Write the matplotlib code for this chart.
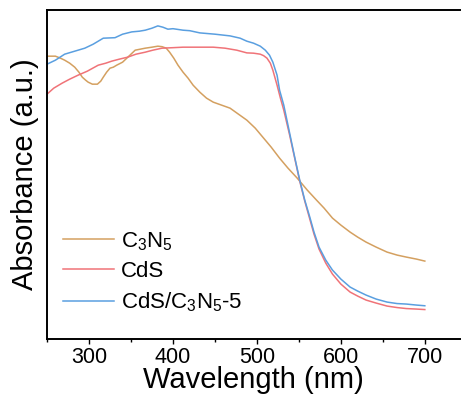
import matplotlib
matplotlib.use('Agg')
import matplotlib.pyplot as plt

#-----------------Data-------------

wl_c3n5 = [250, 260, 266, 271, 277, 283, 288, 292, 296, 299, 304, 310, 314, 317, 321, 325,
           329, 333, 340, 345, 350, 355, 361, 367, 375, 382, 387, 392, 396, 401, 406, 412,
           418, 424, 432, 440, 448, 458, 468, 478, 488, 498, 507, 517, 527, 537, 548, 560,
           571, 580, 590, 600, 611, 620, 630, 642, 655, 667, 678, 690, 700]
abs_c3n5 = [2.83, 2.83, 2.81, 2.79, 2.76, 2.72, 2.67, 2.62, 2.59, 2.57, 2.55, 2.55, 2.58, 2.62,
            2.67, 2.71, 2.72, 2.74, 2.77, 2.81, 2.85, 2.89, 2.90, 2.91, 2.92, 2.93, 2.925, 2.91,
            2.87, 2.81, 2.74, 2.67, 2.61, 2.54, 2.47, 2.41, 2.37, 2.34, 2.31, 2.25, 2.19, 2.11,
            2.02, 1.92, 1.81, 1.71, 1.61, 1.49, 1.39, 1.31, 1.21, 1.14, 1.07, 1.02, 0.97, 0.92,
            0.87, 0.84, 0.82, 0.80, 0.78]

wl_cds = [250, 258, 268, 277, 287, 298, 311, 320, 327, 336, 346, 356, 367, 376, 387, 400,
          412, 430, 448, 462, 476, 488, 496, 504, 508, 512, 516, 519, 524, 528, 532, 539,
          545, 551, 557, 563, 568, 574, 582, 590, 600, 611, 620, 630, 642, 655, 667, 678,
          690, 700]
abs_cds = [2.45, 2.51, 2.56, 2.60, 2.64, 2.68, 2.74, 2.76, 2.78, 2.80, 2.82, 2.85, 2.87, 2.89,
           2.91, 2.915, 2.92, 2.92, 2.92, 2.91, 2.89, 2.863, 2.86, 2.85, 2.835, 2.81, 2.76,
           2.69, 2.54, 2.41, 2.29, 2.04, 1.81, 1.58, 1.38, 1.20, 1.05, 0.90, 0.76, 0.65, 0.55,
           0.47, 0.43, 0.39, 0.36, 0.33, 0.315, 0.305, 0.30, 0.295]

wl_comp = [250, 260, 271, 283, 295, 305, 317, 331, 340, 351, 360, 367, 375, 382, 388, 394,
           400, 412, 420, 432, 450, 468, 480, 488, 496, 504, 510, 515, 519, 524, 527, 532,
           539, 545, 551, 557, 563, 568, 574, 582, 590, 600, 611, 620, 630, 642, 655, 667,
           678, 690, 700]
abs_comp = [2.75, 2.79, 2.85, 2.88, 2.91, 2.95, 3.01, 3.015, 3.05, 3.073, 3.08, 3.09, 3.11,
            3.133, 3.12, 3.10, 3.105, 3.09, 3.085, 3.063, 3.05, 3.033, 3.01, 2.98, 2.96, 2.93,
            2.89, 2.84, 2.77, 2.64, 2.49, 2.34, 2.06, 1.82, 1.59, 1.39, 1.22, 1.07, 0.92, 0.79,
            0.69, 0.60, 0.52, 0.48, 0.44, 0.40, 0.37, 0.355, 0.35, 0.34, 0.333]

#-----------------Style-------------

plt.rcParams['font.family'] = ['Liberation Sans', 'DejaVu Sans']
plt.rcParams['mathtext.fontset'] = 'custom'
plt.rcParams['mathtext.rm'] = 'Liberation Sans'
plt.rcParams['mathtext.it'] = 'Liberation Sans'
plt.rcParams['mathtext.default'] = 'regular'

#-----------------Plot-------------

fig = plt.figure(figsize=(4.61, 4.08), dpi=100)
ax = fig.add_axes([0.102, 0.169, 0.896, 0.806])

ax.plot(wl_c3n5, abs_c3n5, color='#D4A060', lw=1.1, label=r'C$_3$N$_5$')
ax.plot(wl_cds, abs_cds, color='#F07378', lw=1.1, label='CdS')
ax.plot(wl_comp, abs_comp, color='#5A9FE0', lw=1.1, label=r'CdS/C$_3$N$_5$-5')

ax.set_xlim(250, 742)
ax.set_ylim(0, 3.29)
ax.set_xticks([300, 400, 500, 600, 700])
ax.set_xticks([250, 350, 450, 550, 650], minor=True)
ax.set_yticks([])
ax.tick_params(axis='x', which='major', direction='out', length=3.5, width=1.0,
               labelsize=15.5, pad=2)
ax.tick_params(axis='x', which='minor', direction='out', length=2.5, width=1.0)

for side in ['left', 'bottom', 'top']:
    ax.spines[side].set_linewidth(1.4)
ax.spines['right'].set_visible(False)

ax.set_xlabel('Wavelength (nm)', fontsize=21, labelpad=-1)
ax.set_ylabel('Absorbance (a.u.)', fontsize=21, labelpad=6)

ax.legend(loc='lower left', bbox_to_anchor=(0.007, 0.035), frameon=False, fontsize=16,
          handlelength=2.3, handletextpad=0.3, labelspacing=0.38, borderaxespad=0.2)

fig.savefig('out.png', dpi=100)
